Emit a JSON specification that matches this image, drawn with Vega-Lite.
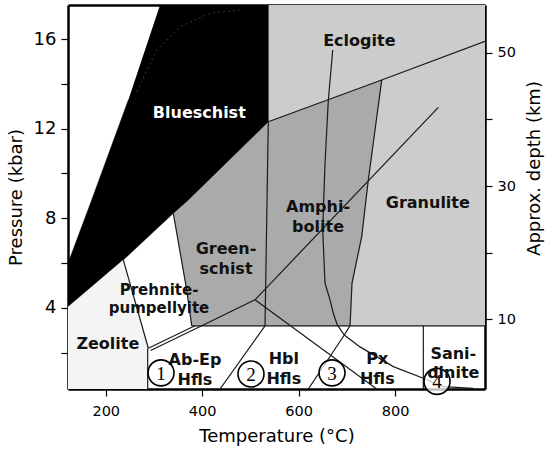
{
  "$schema": "https://vega.github.io/schema/vega-lite/v6.json",
  "width": 417,
  "height": 384,
  "autosize": {"type": "none"},
  "padding": {"left": 68, "top": 5, "right": 61, "bottom": 63},
  "background": "white",
  "config": {
    "view": {"stroke": null},
    "axis": {"grid": false, "domainColor": "black", "domainWidth": 2.5, "tickColor": "black", "tickWidth": 1.2, "labelColor": "black", "titleColor": "black", "labelFont": "DejaVu Sans", "titleFont": "DejaVu Sans", "titleFontWeight": "normal", "zindex": 1},
    "text": {"font": "DejaVu Sans"}
  },
  "datasets": {
    "polys": [
      {"r": "lg", "o": 1, "T": 530, "P": 3.2},
      {"r": "lg", "o": 2, "T": 986.5, "P": 3.2},
      {"r": "lg", "o": 3, "T": 986.5, "P": 17.52},
      {"r": "lg", "o": 4, "T": 530, "P": 17.52},
      {"r": "mg", "o": 1, "T": 340.1, "P": 8.22},
      {"r": "mg", "o": 2, "T": 371.2, "P": 8.82},
      {"r": "mg", "o": 3, "T": 537.1, "P": 12.31},
      {"r": "mg", "o": 4, "T": 772.3, "P": 14.17},
      {"r": "mg", "o": 5, "T": 758.4, "P": 11.94},
      {"r": "mg", "o": 6, "T": 744.5, "P": 9.71},
      {"r": "mg", "o": 7, "T": 730.8, "P": 7.18},
      {"r": "mg", "o": 8, "T": 710.7, "P": 5.11},
      {"r": "mg", "o": 9, "T": 706.6, "P": 3.2},
      {"r": "mg", "o": 10, "T": 378.3, "P": 3.2},
      {"r": "mg", "o": 11, "T": 367.9, "P": 4.8},
      {"r": "bk", "o": 1, "T": 312.6, "P": 17.52},
      {"r": "bk", "o": 2, "T": 537.1, "P": 17.52},
      {"r": "bk", "o": 3, "T": 537.1, "P": 12.31},
      {"r": "bk", "o": 4, "T": 371.2, "P": 8.82},
      {"r": "bk", "o": 5, "T": 340.1, "P": 8.22},
      {"r": "bk", "o": 6, "T": 236.4, "P": 6.14},
      {"r": "bk", "o": 7, "T": 125.9, "P": 4.06},
      {"r": "bk", "o": 8, "T": 121.7, "P": 4.04},
      {"r": "bk", "o": 9, "T": 121.7, "P": 5.99},
      {"r": "bk", "o": 10, "T": 170.9, "P": 8.82},
      {"r": "bk", "o": 11, "T": 246.8, "P": 13.28},
      {"r": "zl", "o": 1, "T": 121.7, "P": 4.04},
      {"r": "zl", "o": 2, "T": 236.4, "P": 6.14},
      {"r": "zl", "o": 3, "T": 288.3, "P": 2.2},
      {"r": "zl", "o": 4, "T": 287, "P": 2.2},
      {"r": "zl", "o": 5, "T": 287, "P": 0.38},
      {"r": "zl", "o": 6, "T": 121.7, "P": 0.38}
    ],
    "lines": [
      {"l": "L1", "o": 1, "T": 236.4, "P": 6.14},
      {"l": "L1", "o": 2, "T": 288.3, "P": 2.2},
      {"l": "L2", "o": 1, "T": 287, "P": 2.2},
      {"l": "L2", "o": 2, "T": 287, "P": 0.38},
      {"l": "L3", "o": 1, "T": 288.3, "P": 2.2},
      {"l": "L3", "o": 2, "T": 385, "P": 3.2},
      {"l": "L4", "o": 1, "T": 293, "P": 2.1},
      {"l": "L4", "o": 2, "T": 399, "P": 3.2},
      {"l": "L5", "o": 1, "T": 399, "P": 3.2},
      {"l": "L5", "o": 2, "T": 509.5, "P": 4.36},
      {"l": "L6", "o": 1, "T": 509.5, "P": 4.36},
      {"l": "L6", "o": 2, "T": 889.7, "P": 12.95},
      {"l": "L7", "o": 1, "T": 509.5, "P": 4.36},
      {"l": "L7", "o": 2, "T": 761.9, "P": 0.38},
      {"l": "L8", "o": 1, "T": 537.1, "P": 12.31},
      {"l": "L8", "o": 2, "T": 530.3, "P": 3.2},
      {"l": "L9", "o": 1, "T": 530.3, "P": 3.2},
      {"l": "L9", "o": 2, "T": 437, "P": 0.38},
      {"l": "L10", "o": 1, "T": 378.3, "P": 3.2},
      {"l": "L10", "o": 2, "T": 986.5, "P": 3.2},
      {"l": "L11", "o": 1, "T": 537.1, "P": 12.31},
      {"l": "L11", "o": 2, "T": 772.3, "P": 14.17},
      {"l": "L11", "o": 3, "T": 986.5, "P": 15.9},
      {"l": "L12", "o": 1, "T": 772.3, "P": 14.17},
      {"l": "L12", "o": 2, "T": 758.4, "P": 11.94},
      {"l": "L12", "o": 3, "T": 744.5, "P": 9.71},
      {"l": "L12", "o": 4, "T": 730.8, "P": 7.18},
      {"l": "L12", "o": 5, "T": 710.7, "P": 5.11},
      {"l": "L12", "o": 6, "T": 706.6, "P": 3.2},
      {"l": "L12", "o": 7, "T": 694.7, "P": 2.79},
      {"l": "L12", "o": 8, "T": 620.1, "P": 0.38},
      {"l": "L13", "o": 1, "T": 670.7, "P": 15.51},
      {"l": "L13", "o": 2, "T": 661.6, "P": 13.28},
      {"l": "L13", "o": 3, "T": 654.7, "P": 10.46},
      {"l": "L13", "o": 4, "T": 649.9, "P": 7.48},
      {"l": "L13", "o": 5, "T": 654.7, "P": 5.11},
      {"l": "L13", "o": 6, "T": 665.1, "P": 4.36},
      {"l": "L13", "o": 7, "T": 671.9, "P": 3.76},
      {"l": "L13", "o": 8, "T": 680.2, "P": 3.24},
      {"l": "L13", "o": 9, "T": 694.7, "P": 2.79},
      {"l": "L13", "o": 10, "T": 727.3, "P": 2.26},
      {"l": "L13", "o": 11, "T": 796.4, "P": 1.38},
      {"l": "L13", "o": 12, "T": 858.6, "P": 0.86},
      {"l": "L13", "o": 13, "T": 899.5, "P": 0.49},
      {"l": "L13", "o": 14, "T": 962.3, "P": 0.41},
      {"l": "L14", "o": 1, "T": 858.6, "P": 3.2},
      {"l": "L14", "o": 2, "T": 858.6, "P": 0.38},
      {"l": "L15", "o": 1, "T": 340.1, "P": 8.22},
      {"l": "L15", "o": 2, "T": 367.9, "P": 4.8},
      {"l": "L15", "o": 3, "T": 378.3, "P": 3.2}
    ],
    "dots": [
      {"o": 1, "T": 264.2, "P": 13.65},
      {"o": 2, "T": 305.7, "P": 15.51},
      {"o": 3, "T": 354, "P": 16.55},
      {"o": 4, "T": 416.2, "P": 17.15},
      {"o": 5, "T": 478.5, "P": 17.3}
    ],
    "labels": [
      {"name": "Eclogite", "T": 725.9, "P": 15.93},
      {"name": "Granulite", "T": 867.9, "P": 8.7},
      {"name": "Amphi-\nbolite", "T": 640.2, "P": 8.5},
      {"name": "Green-\nschist", "T": 449.4, "P": 6.62},
      {"name": "Zeolite", "T": 204.3, "P": 2.38},
      {"name": "Ab-Ep\nHfls", "T": 385.1, "P": 1.66},
      {"name": "Hbl\nHfls", "T": 569.3, "P": 1.73},
      {"name": "Px\nHfls", "T": 763.2, "P": 1.73}
    ],
    "circles": [
      {"n": "1", "T": 314.6, "P": 1.1},
      {"n": "2", "T": 501.2, "P": 1.05},
      {"n": "3", "T": 669.2, "P": 1.1},
      {"n": "4", "T": 887, "P": 0.72}
    ],
    "depth": [
      {"km": 10, "T": 500},
      {"km": 50, "T": 500}
    ]
  },
  "resolve": {"scale": {"y": "independent"}, "axis": {"x": "independent"}},
  "layer": [
    {
      "layer": [
        {
          "data": {"name": "polys"},
          "transform": [{"filter": {"field": "r", "equal": "lg"}}],
          "mark": {"type": "line", "fill": "#cccccc", "stroke": "#cccccc", "strokeWidth": 0.5, "clip": true},
          "encoding": {
            "x": {"field": "T", "type": "quantitative", "scale": {"domain": [121.7, 986.5], "nice": false, "zero": false},
              "axis": {"values": [200, 400, 600, 800], "tickSize": 7, "labelPadding": 8, "labelFontSize": 14.5, "title": "Temperature (°C)", "titleFontSize": 18, "titlePadding": 10}},
            "y": {"field": "P", "type": "quantitative", "scale": {"domain": [0.38, 17.52], "nice": false, "zero": false},
              "axis": {"values": [2, 4, 6, 8, 10, 12, 14, 16], "labelExpr": "datum.value % 4 == 0 ? datum.label : ''", "tickSize": 7, "labelPadding": 5, "labelFontSize": 18, "title": "Pressure (kbar)", "titleFontSize": 18, "titlePadding": 8}},
            "order": {"field": "o"}
          }
        },
        {
          "data": {"name": "polys"},
          "transform": [{"filter": {"field": "r", "equal": "mg"}}],
          "mark": {"type": "line", "fill": "#aaaaaa", "stroke": "#aaaaaa", "strokeWidth": 0.5, "clip": true},
          "encoding": {
            "x": {"field": "T", "type": "quantitative"},
            "y": {"field": "P", "type": "quantitative"},
            "order": {"field": "o"}
          }
        },
        {
          "data": {"name": "polys"},
          "transform": [{"filter": {"field": "r", "equal": "bk"}}],
          "mark": {"type": "line", "fill": "black", "stroke": "black", "strokeWidth": 0.5, "clip": true},
          "encoding": {
            "x": {"field": "T", "type": "quantitative"},
            "y": {"field": "P", "type": "quantitative"},
            "order": {"field": "o"}
          }
        },
        {
          "data": {"name": "polys"},
          "transform": [{"filter": {"field": "r", "equal": "zl"}}],
          "mark": {"type": "line", "fill": "#f4f4f4", "stroke": "#f4f4f4", "strokeWidth": 0.5, "clip": true},
          "encoding": {
            "x": {"field": "T", "type": "quantitative"},
            "y": {"field": "P", "type": "quantitative"},
            "order": {"field": "o"}
          }
        },
        {
          "data": {"name": "dots"},
          "mark": {"type": "line", "stroke": "#3a3a3a", "strokeWidth": 1, "strokeDash": [2, 3], "clip": true},
          "encoding": {
            "x": {"field": "T", "type": "quantitative"},
            "y": {"field": "P", "type": "quantitative"},
            "order": {"field": "o"}
          }
        },
        {
          "data": {"name": "lines"},
          "mark": {"type": "line", "stroke": "#1a1a1a", "strokeWidth": 1.2, "clip": true},
          "encoding": {
            "x": {"field": "T", "type": "quantitative"},
            "y": {"field": "P", "type": "quantitative"},
            "detail": {"field": "l"},
            "order": {"field": "o"}
          }
        },
        {
          "data": {"name": "circles"},
          "mark": {"type": "point", "shape": "circle", "size": 676, "filled": false, "fill": "white", "fillOpacity": 0.75, "stroke": "black", "strokeWidth": 1.6, "opacity": 1, "clip": false},
          "encoding": {
            "x": {"field": "T", "type": "quantitative"},
            "y": {"field": "P", "type": "quantitative"}
          }
        },
        {
          "data": {"values": [{"name": "Blueschist", "T": 394, "P": 12.69}]},
          "mark": {"type": "text", "fontSize": 16, "fontWeight": "bold", "color": "white", "align": "center", "baseline": "middle"},
          "encoding": {
            "x": {"field": "T", "type": "quantitative"},
            "y": {"field": "P", "type": "quantitative"},
            "text": {"field": "name"}
          }
        },
        {
          "data": {"values": [{"name": "Prehnite-\npumpellyite", "T": 310.5, "P": 4.79}]},
          "mark": {"type": "text", "fontSize": 15, "fontWeight": "bold", "color": "#111111", "align": "center", "baseline": "middle", "lineBreak": "\n", "lineHeight": 18},
          "encoding": {
            "x": {"field": "T", "type": "quantitative"},
            "y": {"field": "P", "type": "quantitative"},
            "text": {"field": "name"}
          }
        },
        {
          "data": {"values": [{"name": "Sani-\ndinite", "T": 920.8, "P": 1.92}]},
          "mark": {"type": "text", "fontSize": 16, "fontWeight": "bold", "color": "#111111", "align": "center", "baseline": "middle", "lineBreak": "\n", "lineHeight": 19},
          "encoding": {
            "x": {"field": "T", "type": "quantitative"},
            "y": {"field": "P", "type": "quantitative"},
            "text": {"field": "name"}
          }
        },
        {
          "data": {"name": "labels"},
          "mark": {"type": "text", "fontSize": 16, "fontWeight": "bold", "color": "#111111", "align": "center", "baseline": "middle", "lineBreak": "\n", "lineHeight": 20},
          "encoding": {
            "x": {"field": "T", "type": "quantitative"},
            "y": {"field": "P", "type": "quantitative"},
            "text": {"field": "name"}
          }
        },
        {
          "data": {"name": "circles"},
          "mark": {"type": "text", "font": "Liberation Serif", "fontSize": 19, "color": "black", "align": "center", "baseline": "middle", "dy": 1},
          "encoding": {
            "x": {"field": "T", "type": "quantitative"},
            "y": {"field": "P", "type": "quantitative"},
            "text": {"field": "n"}
          }
        }
      ]
    },
    {
      "data": {"name": "depth"},
      "mark": {"type": "point", "opacity": 0},
      "encoding": {
        "x": {"field": "T", "type": "quantitative", "axis": {"orient": "top", "labels": false, "ticks": false, "title": null, "domain": true}},
        "y": {"field": "km", "type": "quantitative", "scale": {"domain": [-0.5, 57.2], "nice": false, "zero": false},
          "axis": {"orient": "right", "values": [10, 20, 30, 40, 50], "labelExpr": "datum.value % 20 == 10 ? datum.label : ''", "tickSize": 7, "labelPadding": 5, "labelFontSize": 14.5, "title": "Approx. depth (km)", "titleFontSize": 18, "titleAngle": 270, "titleBaseline": "top", "titlePadding": 10, "titleY": 163}}
      }
    }
  ]
}
